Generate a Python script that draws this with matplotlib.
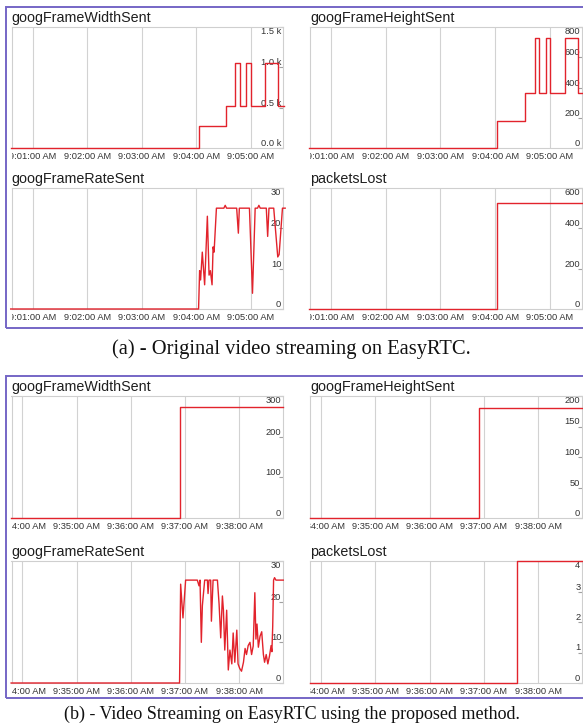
import matplotlib
matplotlib.use('Agg')
import matplotlib.pyplot as plt
from matplotlib.patches import Rectangle

plt.rcParams['font.family'] = ['Liberation Sans', 'DejaVu Sans']

# ---------------- data (x = minutes past 9:00) ----------------
# (a) original streaming, 9:00:37 - 9:05:35
a_xticks = [1, 2, 3, 4, 5]
a_xlabels = ['9:01:00 AM', '9:02:00 AM', '9:03:00 AM', '9:04:00 AM', '9:05:00 AM']

a_width_t = [0.6, 4.046, 4.554, 4.712, 4.798, 4.921, 5.0, 5.257, 5.50, 5.6]
a_width_v = [0, 270, 520, 1058, 520, 1058, 520, 1058, 520, 520]
a_width_yticks = [0, 500, 1000, 1500]
a_width_ylabels = ['0.0 k', '0.5 k', '1.0 k', '1.5 k']

a_height_t = [0.6, 4.044, 4.553, 4.735, 4.81, 4.935, 5.012, 5.27, 5.515, 5.6]
a_height_v = [0, 178, 362, 729, 362, 729, 362, 729, 362, 362]
a_height_yticks = [0, 200, 400, 600, 800]
a_height_ylabels = ['0', '200', '400', '600', '800']

a_fps_t = [0.6, 4.043, 4.062, 4.080, 4.111, 4.154, 4.204, 4.235, 4.259, 4.290,
           4.309, 4.327, 4.370, 4.506, 4.531, 4.556, 4.741, 4.772, 4.790, 4.975,
           5.031, 5.080, 5.123, 5.148, 5.173, 5.284, 5.309, 5.333, 5.420, 5.494,
           5.519, 5.580, 5.63]
a_fps_v = [0, 0, 9.5, 7.2, 14.1, 6.0, 23.0, 8.4, 9.5, 6.0,
           15.4, 14.1, 25.0, 25.0, 25.7, 25.0, 25.0, 18.8, 25.0, 25.0,
           3.9, 25.0, 25.0, 25.7, 25.0, 25.0, 18.0, 25.0, 25.0, 12.9,
           13.5, 25.0, 25.0]
a_fps_yticks = [0, 10, 20, 30]
a_fps_ylabels = ['0', '10', '20', '30']

a_lost_t = [0.6, 4.04, 5.6]
a_lost_v = [0, 525, 525]
a_lost_yticks = [0, 200, 400, 600]
a_lost_ylabels = ['0', '200', '400', '600']

# (b) proposed method, 9:33:48 - 9:38:49
b_xticks = [34, 35, 36, 37, 38]
b_xlabels = ['9:34:00 AM', '9:35:00 AM', '9:36:00 AM', '9:37:00 AM', '9:38:00 AM']

b_width_t = [33.79, 36.908, 38.815]
b_width_v = [0, 272, 272]
b_width_yticks = [0, 100, 200, 300]
b_width_ylabels = ['0', '100', '200', '300']

b_height_t = [33.79, 36.908, 38.815]
b_height_v = [0, 181, 181]
b_height_yticks = [0, 50, 100, 150, 200]
b_height_ylabels = ['0', '50', '100', '150', '200']

b_fps_t = [33.79, 36.900, 36.920, 36.963, 37.012, 37.228, 37.259, 37.278, 37.302, 37.321,
           37.364, 37.414, 37.426, 37.444, 37.475, 37.488, 37.519, 37.599, 37.630, 37.660,
           37.691, 37.710, 37.735, 37.770, 37.800, 37.830, 37.865, 37.890, 37.920, 37.957,
           37.980, 38.010, 38.044, 38.080, 38.110, 38.136, 38.167, 38.200, 38.230, 38.260,
           38.290, 38.310, 38.330, 38.355, 38.386, 38.417, 38.448, 38.470, 38.500, 38.530,
           38.560, 38.590, 38.605, 38.620, 38.636, 38.654, 38.679, 38.815]
b_fps_v = [0, 0, 24.3, 16.0, 25.3, 25.3, 23.9, 25.3, 10.0, 19.0,
           25.3, 25.3, 22.0, 25.3, 25.3, 15.2, 25.3, 25.3, 19.4, 11.1,
           21.4, 17.9, 8.1, 17.9, 3.2, 8.1, 4.7, 12.3, 5.1, 13.0,
           4.7, 3.6, 2.9, 5.1, 8.5, 7.0, 9.2, 10.0, 7.0, 9.1,
           22.2, 10.8, 14.5, 8.8, 11.5, 12.6, 7.0, 5.1, 7.0, 4.7,
           6.6, 9.2, 7.7, 13.9, 25.3, 25.9, 25.3, 25.3]
b_fps_yticks = [0, 10, 20, 30]
b_fps_ylabels = ['0', '10', '20', '30']

b_lost_t = [33.79, 37.605, 38.815]
b_lost_v = [0, 4, 4]
b_lost_yticks = [0, 1, 2, 3, 4]
b_lost_ylabels = ['0', '1', '2', '3', '4']

caption_a = '(a) - Original video streaming on EasyRTC.'
caption_b = '(b) - Video Streaming on EasyRTC using the proposed method.'

# ---------------- layout ----------------
W, H = 583, 727
fig = plt.figure(figsize=(W / 100, H / 100), dpi=100)
fig.patch.set_facecolor('white')

RED = '#e2232c'
PURPLE = '#7566c6'
TICK_FS = 6.7


def ax_at(x0, y0, x1, y1):
    return fig.add_axes([x0 / W, 1 - y1 / H, (x1 - x0) / W, (y1 - y0) / H])


def panel(box, title, t, v, xlim, xticks, xlabels, yticks, ylabels, step=False):
    ax = ax_at(*box)
    if step:
        ax.step(t, v, where='post', color=RED, lw=1.0, clip_on=False, zorder=3)
    else:
        ax.plot(t, v, color=RED, lw=1.0, clip_on=False, zorder=3)
    ax.set_xlim(xlim)
    ax.set_ylim(yticks[0], yticks[-1])
    for s in ax.spines.values():
        s.set_color('#cfcfcf')
        s.set_linewidth(0.8)
    ax.set_xticks(xticks, xlabels)
    ax.tick_params(axis='x', length=0, pad=3, labelsize=TICK_FS, labelcolor='#333333')
    ax.grid(axis='x', color='#d2d2d2', lw=0.8)
    ax.set_axisbelow(True)
    ax.yaxis.tick_right()
    ax.set_yticks(yticks, ylabels)
    ax.tick_params(axis='y', direction='in', length=3, width=0.8, color='#a0a0a0',
                   pad=-1.2, labelsize=TICK_FS, labelcolor='#333333')
    labels = ax.get_yticklabels()
    for i, lbl in enumerate(labels):
        lbl.set_ha('right')
        lbl.set_va('top' if i == len(labels) - 1 else 'bottom')
    ax.set_title(title, loc='left', fontsize=10.3, pad=3.6, color='#1e1e1e')
    clip = Rectangle((box[0] / W, 0), 1, 1, transform=fig.transFigure)
    for lbl in ax.get_xticklabels():
        lbl.set_clip_on(True)
        lbl.set_clip_path(clip)
    return ax


LX0, LX1 = 11.5, 283
RX0, RX1 = 310, 582

a_xlim = (0.615, 5.59)
b_xlim = (33.797, 38.81)

panel((LX0, 27, LX1, 148), 'googFrameWidthSent', a_width_t, a_width_v, a_xlim,
      a_xticks, a_xlabels, a_width_yticks, a_width_ylabels, step=True)
panel((RX0, 27, RX1, 148), 'googFrameHeightSent', a_height_t, a_height_v, a_xlim,
      a_xticks, a_xlabels, a_height_yticks, a_height_ylabels, step=True)
panel((LX0, 188, LX1, 309), 'googFrameRateSent', a_fps_t, a_fps_v, a_xlim,
      a_xticks, a_xlabels, a_fps_yticks, a_fps_ylabels)
panel((RX0, 188, RX1, 309), 'packetsLost', a_lost_t, a_lost_v, a_xlim,
      a_xticks, a_xlabels, a_lost_yticks, a_lost_ylabels, step=True)

panel((LX0, 396, LX1, 518), 'googFrameWidthSent', b_width_t, b_width_v, b_xlim,
      b_xticks, b_xlabels, b_width_yticks, b_width_ylabels, step=True)
panel((RX0, 396, RX1, 518), 'googFrameHeightSent', b_height_t, b_height_v, b_xlim,
      b_xticks, b_xlabels, b_height_yticks, b_height_ylabels, step=True)
panel((LX0, 561, LX1, 683), 'googFrameRateSent', b_fps_t, b_fps_v, b_xlim,
      b_xticks, b_xlabels, b_fps_yticks, b_fps_ylabels)
panel((RX0, 561, RX1, 683), 'packetsLost', b_lost_t, b_lost_v, b_xlim,
      b_xticks, b_xlabels, b_lost_yticks, b_lost_ylabels, step=True)

# purple screenshot frames
for (y0, y1) in [(6.5, 328), (376, 698)]:
    fig.add_artist(Rectangle((5.5 / W, 1 - y1 / H), (W + 20) / W, (y1 - y0) / H,
                             transform=fig.transFigure, fill=False,
                             ec=PURPLE, lw=1.4, clip_on=False))

fig.text(291.5 / W, 1 - 349 / H, caption_a, ha='center', va='center',
         family='Liberation Serif', fontsize=14.8, color='#111111')
fig.text(291.5 / W, 1 - 714 / H, caption_b, ha='center', va='center',
         family='Liberation Serif', fontsize=13, color='#111111')

fig.savefig('out.png', dpi=100, facecolor='white')
